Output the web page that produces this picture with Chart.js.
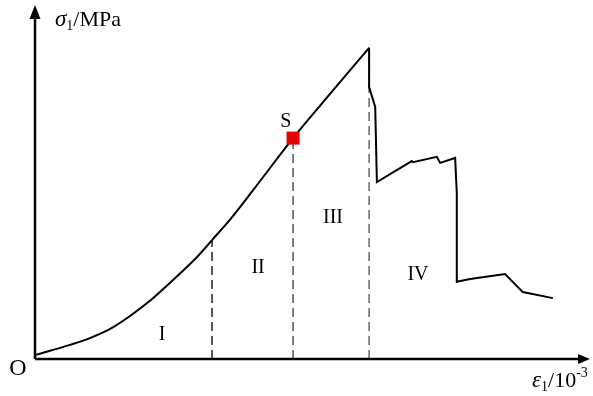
<!DOCTYPE html>
<html>
<head>
<meta charset="utf-8">
<script src="https://cdn.jsdelivr.net/npm/chart.js@4/dist/chart.umd.min.js"></script>
<style>
html, body { margin: 0; padding: 0; background: #fff; }
#wrap { width: 593px; height: 396px; }
</style>
</head>
<body>
<div id="wrap"><canvas id="myChart"></canvas></div>
<script>
// loading branch up to peak strength: strain (10^-3) / stress (MPa)
var preStrain = [0, 0.63, 0.99, 1.41, 2.02, 2.43, 2.92, 3.19, 3.51, 3.93, 4.65, 5.35, 6.02];
var preStress = [1.1, 4.0, 5.9, 9.0, 15.8, 21.5, 28.8, 33.6, 39.3, 47.7, 62.4, 75.5, 87.9];

// post-peak branch (stress drops, plateau, second drop, residual)
var postStrain = [6.02, 6.02, 6.13, 6.16, 6.79, 6.81, 7.24, 7.30, 7.57, 7.60, 7.60, 7.84, 8.47, 8.79, 9.33];
var postStress = [87.9, 76.8, 71.2, 50.0, 55.9, 55.6, 57.1, 55.4, 56.8, 46.9, 21.8, 22.6, 24.0, 18.9, 17.2];

// stage boundaries (dashed verticals)
var boundaryStrain = [3.19, 4.65, 6.02];
var boundaryStress = [33.6, 62.4, 87.9];

// point S
var sStrain = 4.65;
var sStress = 62.4;

var stageNames = ['I', 'II', 'III', 'IV'];

var serif = '"Liberation Serif", "DejaVu Serif", serif';

function pts(xs, ys) {
    return xs.map(function (x, i) { return {x: x, y: ys[i]}; });
}

var datasets = [{
    label: 'S',
    data: [{x: sStrain, y: sStress}],
    pointStyle: 'rect',
    pointRadius: 9.2,
    backgroundColor: '#e60000',
    borderColor: '#e60000',
    borderWidth: 0,
    showLine: false
}, {
    label: 'pre-peak',
    data: pts(preStrain, preStress),
    borderColor: '#000',
    borderWidth: 2,
    pointRadius: 0,
    showLine: true,
    cubicInterpolationMode: 'monotone'
}, {
    label: 'post-peak',
    data: pts(postStrain, postStress),
    borderColor: '#000',
    borderWidth: 2,
    pointRadius: 0,
    showLine: true,
    tension: 0
}];

var dashColors = ['#222', '#555', '#666'];
boundaryStrain.forEach(function (x, i) {
    datasets.push({
        label: 'boundary ' + (i + 1),
        data: [{x: x, y: 0}, {x: x, y: boundaryStress[i]}],
        borderColor: dashColors[i],
        borderWidth: 1.5,
        borderDash: [9, 5],
        pointRadius: 0,
        showLine: true
    });
});

// axes with arrow heads, stage numbers and axis titles
var decorations = {
    id: 'decorations',
    afterDraw: function (chart) {
        var ctx = chart.ctx;
        var a = chart.chartArea;
        var xs = chart.scales.x, ys = chart.scales.y;
        ctx.save();
        ctx.strokeStyle = '#000';
        ctx.fillStyle = '#000';
        ctx.lineWidth = 2.5;
        ctx.beginPath();
        ctx.moveTo(a.left, a.bottom);
        ctx.lineTo(a.left, a.top + 12);
        ctx.moveTo(a.left, a.bottom);
        ctx.lineTo(a.right - 10, a.bottom);
        ctx.stroke();
        ctx.beginPath();
        ctx.moveTo(a.left, a.top);
        ctx.lineTo(a.left - 5.5, a.top + 14);
        ctx.lineTo(a.left + 5.5, a.top + 14);
        ctx.closePath();
        ctx.fill();
        ctx.beginPath();
        ctx.moveTo(a.right, a.bottom);
        ctx.lineTo(a.right - 12, a.bottom - 5);
        ctx.lineTo(a.right - 12, a.bottom + 5);
        ctx.closePath();
        ctx.fill();

        ctx.textAlign = 'center';
        ctx.textBaseline = 'middle';
        ctx.font = '20px ' + serif;
        var stageX = [2.29, 4.02, 5.37, 6.9];
        var stageY = [6.8, 25.7, 39.8, 23.7];
        stageNames.forEach(function (n, i) {
            ctx.fillText(n, xs.getPixelForValue(stageX[i]), ys.getPixelForValue(stageY[i]));
        });
        ctx.fillText('S', xs.getPixelForValue(4.52), ys.getPixelForValue(66.9));

        ctx.font = '24px ' + serif;
        ctx.fillText('O', a.left - 17, a.bottom + 10);

        ctx.textAlign = 'left';
        ctx.textBaseline = 'alphabetic';
        function runs(x, y, parts) {
            parts.forEach(function (p) {
                ctx.font = p[1] + 'px ' + serif;
                if (p[3]) ctx.font = 'italic ' + ctx.font;
                ctx.fillText(p[0], x, y + p[2]);
                x += ctx.measureText(p[0]).width;
            });
        }
        runs(a.left + 20, 26, [['σ', 23, 0, true], ['1', 14, 4], ['/MPa', 22, 0]]);
        runs(532, 387, [['ε', 23, 0, true], ['1', 14, 4], ['/10', 22, 0], ['-3', 14, -10]]);
        ctx.restore();
    }
};

var ctx = document.getElementById('myChart').getContext('2d');
var myChart = new Chart(ctx, {
    type: 'scatter',
    data: {datasets: datasets},
    options: {
        responsive: true,
        maintainAspectRatio: false,
        animation: false,
        layout: {autoPadding: false, padding: {left: 35, right: 3, top: 5, bottom: 37}},
        scales: {
            x: {type: 'linear', min: 0, max: 10, display: false},
            y: {type: 'linear', min: 0, max: 100, display: false}
        },
        plugins: {
            legend: {display: false},
            tooltip: {enabled: false}
        }
    },
    plugins: [decorations]
});
</script>
</body>
</html>
